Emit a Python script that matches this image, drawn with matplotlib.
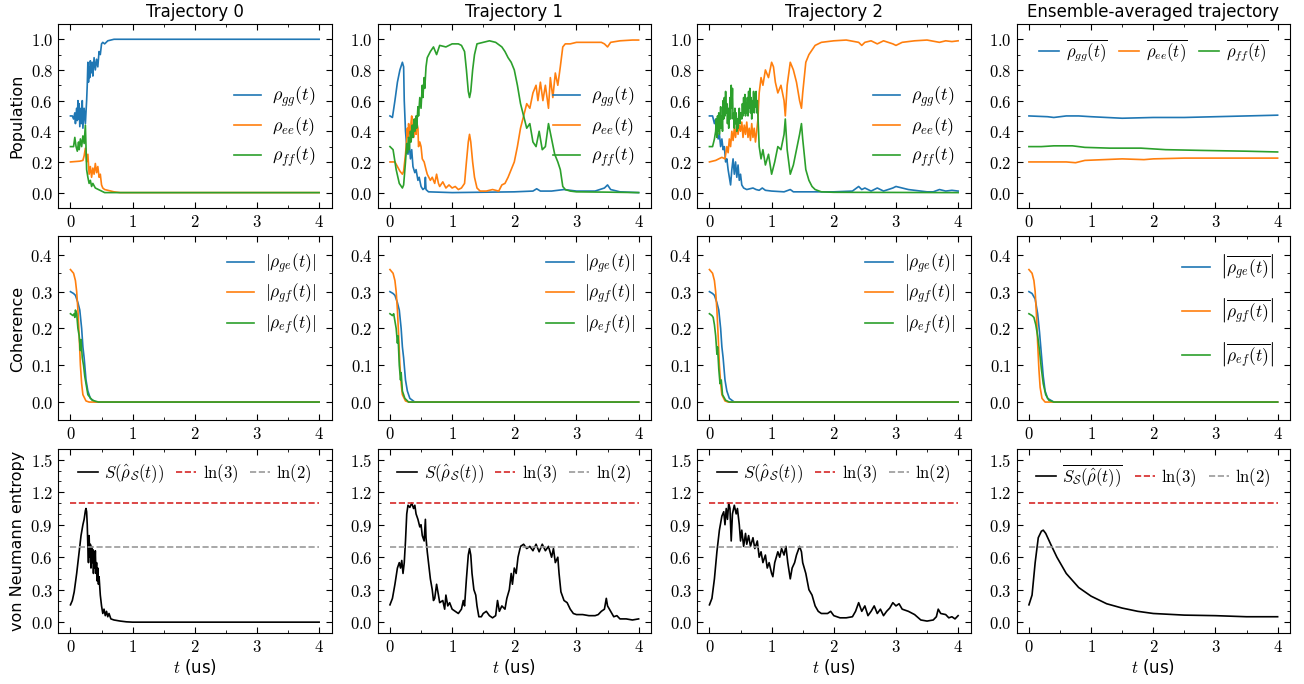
"""
Quantum trajectories: populations, coherences and von Neumann entropy
for three single trajectories and the ensemble average.
"""
import matplotlib
matplotlib.use('Agg')
import matplotlib.pyplot as plt
import numpy as np
from matplotlib.ticker import MultipleLocator, FormatStrFormatter

plt.rcParams['mathtext.fontset'] = 'cm'
plt.rcParams['font.family'] = ['DejaVu Sans']

# ---------------- data: (t [us], value) ----------------
# Trajectory 0 populations
tr0_gg = [(0, .5), (.03, .5), (.05, .48), (.07, .52), (.08, .45), (.10, .55), (.11, .47), (.12, .60),
          (.13, .48), (.14, .58), (.15, .43), (.17, .55), (.18, .45), (.19, .60), (.20, .42), (.22, .55),
          (.24, .45), (.26, .60), (.27, .70), (.28, .85), (.29, .72), (.30, .82), (.31, .75), (.32, .86),
          (.33, .78), (.35, .85), (.36, .76), (.38, .88), (.40, .80), (.42, .87), (.44, .82), (.46, .92),
          (.48, .90), (.50, .97), (.52, .98), (.55, .97), (.60, .99), (.70, 1.0), (4.0, 1.0)]
tr0_ee = [(0, .2), (.15, .205), (.20, .21), (.22, .24), (.24, .29), (.26, .20), (.28, .25), (.30, .12),
          (.32, .17), (.34, .10), (.36, .16), (.38, .12), (.40, .19), (.42, .13), (.44, .17), (.46, .10),
          (.48, .12), (.50, .05), (.52, .03), (.55, .02), (.60, .015), (.70, .005), (.80, 0), (4.0, 0)]
tr0_ff = [(0, .3), (.05, .3), (.07, .36), (.09, .30), (.11, .27), (.13, .33), (.14, .28), (.16, .35),
          (.18, .30), (.20, .37), (.22, .32), (.24, .44), (.25, .30), (.26, .15), (.28, .10), (.30, .06),
          (.32, .08), (.34, .04), (.36, .06), (.40, .03), (.45, .02), (.50, .01), (.55, 0), (4.0, 0)]

# Trajectory 1 populations
tr1_gg = [(0, .5), (.04, .49), (.08, .60), (.12, .72), (.16, .80), (.20, .85), (.22, .82), (.23, .60),
          (.25, .40), (.27, .30), (.29, .25), (.31, .32), (.33, .22), (.35, .28), (.37, .17), (.40, .13),
          (.42, .15), (.45, .08), (.47, .10), (.50, .04), (.53, .02), (.56, .03), (.57, .10), (.58, .02),
          (.62, .005), (1.0, 0), (2.0, .005), (2.3, .01), (2.36, .025), (2.42, .01), (2.6, .01),
          (2.7, .015), (2.8, .02), (3.0, .01), (3.3, .01), (3.45, .03), (3.5, .05), (3.55, .02),
          (3.7, .005), (4.0, 0)]
tr1_ee = [(0, .2), (.08, .2), (.12, .17), (.16, .14), (.20, .12), (.22, .14), (.25, .25), (.27, .35),
          (.28, .42), (.29, .36), (.30, .45), (.31, .40), (.33, .38), (.34, .46), (.35, .50), (.36, .40),
          (.37, .44), (.38, .36), (.40, .48), (.41, .40), (.42, .38), (.43, .46), (.45, .42), (.46, .30),
          (.48, .33), (.50, .30), (.52, .22), (.55, .20), (.58, .15), (.60, .12), (.65, .08), (.68, .10),
          (.72, .06), (.75, .12), (.78, .06), (.80, .04), (.85, .07), (.90, .03), (.95, .05), (1.0, .03),
          (1.05, .04), (1.1, .02), (1.15, .03), (1.2, .06), (1.23, .20), (1.26, .33), (1.28, .38),
          (1.30, .33), (1.33, .20), (1.36, .10), (1.40, .03), (1.45, .01), (1.55, .01), (1.65, .02),
          (1.75, .01), (1.8, .05), (1.85, .06), (1.9, .10), (1.95, .15), (2.0, .20), (2.05, .30),
          (2.1, .42), (2.15, .50), (2.2, .58), (2.25, .55), (2.3, .65), (2.35, .70), (2.38, .60),
          (2.42, .72), (2.46, .60), (2.5, .70), (2.55, .55), (2.58, .75), (2.62, .62), (2.66, .78),
          (2.7, .70), (2.74, .82), (2.78, .95), (2.82, .97), (2.9, .97), (3.0, .98), (3.2, .98),
          (3.4, .98), (3.45, .97), (3.5, .95), (3.55, .98), (3.7, .99), (3.9, .995), (4.0, .995)]
tr1_ff = [(0, .3), (.05, .28), (.10, .15), (.15, .06), (.20, .03), (.22, .05), (.25, .20), (.27, .32),
          (.28, .26), (.30, .36), (.31, .28), (.33, .40), (.34, .33), (.36, .44), (.37, .36), (.39, .48),
          (.40, .40), (.42, .50), (.43, .42), (.45, .56), (.46, .50), (.48, .62), (.50, .55), (.52, .70),
          (.53, .62), (.55, .75), (.56, .68), (.58, .82), (.60, .88), (.65, .92), (.70, .95), (.75, .90),
          (.80, .96), (.90, .95), (1.0, .97), (1.1, .97), (1.15, .96), (1.2, .92), (1.23, .80),
          (1.26, .66), (1.28, .62), (1.30, .66), (1.33, .80), (1.36, .90), (1.40, .97), (1.5, .98),
          (1.6, .99), (1.7, .98), (1.8, .95), (1.85, .92), (1.9, .88), (1.95, .85), (2.0, .80),
          (2.05, .70), (2.1, .58), (2.15, .50), (2.2, .42), (2.25, .45), (2.3, .33), (2.35, .30),
          (2.4, .40), (2.45, .28), (2.5, .30), (2.55, .45), (2.6, .35), (2.65, .25), (2.7, .20),
          (2.74, .15), (2.78, .04), (2.82, .02), (2.9, .01), (3.0, .005), (3.5, .003), (4.0, 0)]

# Trajectory 2 populations
tr2_gg = [(0, .5), (.05, .5), (.08, .45), (.10, .48), (.12, .40), (.14, .35), (.16, .38), (.18, .30),
          (.20, .35), (.22, .28), (.24, .30), (.26, .20), (.28, .22), (.30, .15), (.32, .10), (.34, .05),
          (.36, .15), (.38, .22), (.40, .12), (.42, .20), (.44, .10), (.46, .18), (.48, .08), (.50, .12),
          (.52, .05), (.55, .03), (.60, .02), (.70, .03), (.75, .02), (.80, .015), (.85, .03), (.90, .015),
          (1.0, .01), (1.2, .005), (1.3, .02), (1.35, .005), (1.6, .005), (2.0, .005), (2.3, .01),
          (2.4, .04), (2.45, .02), (2.5, .03), (2.6, .01), (2.7, .03), (2.8, .01), (2.95, .03), (3.0, .04),
          (3.1, .03), (3.2, .02), (3.4, .01), (3.5, .005), (3.6, .005), (3.7, .02), (3.8, .01),
          (3.9, .015), (4.0, .01)]
tr2_ee = [(0, .2), (.10, .21), (.20, .23), (.25, .22), (.28, .30), (.30, .26), (.32, .35), (.34, .30),
          (.36, .40), (.38, .34), (.40, .42), (.42, .36), (.44, .45), (.46, .38), (.48, .44), (.50, .40),
          (.52, .46), (.54, .36), (.56, .44), (.58, .38), (.60, .46), (.62, .36), (.64, .42), (.66, .34),
          (.68, .45), (.70, .36), (.72, .42), (.74, .33), (.76, .40), (.78, .48), (.80, .65), (.83, .75),
          (.86, .70), (.90, .80), (.95, .75), (1.0, .85), (1.03, .82), (1.06, .72), (1.1, .65),
          (1.15, .70), (1.2, .60), (1.22, .50), (1.25, .70), (1.3, .85), (1.35, .80), (1.4, .72),
          (1.45, .60), (1.48, .55), (1.5, .65), (1.55, .85), (1.6, .90), (1.7, .96), (1.8, .98),
          (2.0, .99), (2.2, .995), (2.4, .98), (2.45, .96), (2.5, .98), (2.6, .99), (2.7, .97),
          (2.8, .99), (2.95, .97), (3.0, .96), (3.1, .98), (3.3, .99), (3.5, .995), (3.7, .98),
          (3.8, .99), (3.9, .985), (4.0, .99)]
tr2_ff = [(0, .3), (.05, .3), (.08, .35), (.10, .40), (.11, .48), (.12, .36), (.13, .50), (.14, .40),
          (.15, .52), (.16, .38), (.17, .45), (.18, .56), (.19, .42), (.20, .50), (.21, .40), (.22, .60),
          (.23, .48), (.24, .62), (.25, .50), (.26, .66), (.27, .52), (.28, .58), (.29, .45), (.30, .55),
          (.31, .42), (.32, .50), (.33, .62), (.34, .48), (.35, .70), (.36, .55), (.37, .68), (.38, .48),
          (.39, .52), (.40, .42), (.41, .55), (.42, .45), (.43, .52), (.44, .40), (.45, .48), (.46, .42),
          (.48, .55), (.49, .45), (.50, .52), (.52, .48), (.53, .58), (.54, .50), (.55, .62), (.56, .52),
          (.57, .64), (.58, .50), (.59, .58), (.60, .52), (.61, .62), (.62, .50), (.63, .66), (.64, .55),
          (.65, .68), (.66, .52), (.67, .62), (.68, .48), (.69, .60), (.70, .55), (.71, .66), (.72, .52),
          (.73, .64), (.74, .56), (.75, .66), (.76, .52), (.77, .60), (.78, .50), (.80, .30), (.83, .22),
          (.86, .28), (.90, .18), (.95, .25), (1.0, .12), (1.05, .20), (1.1, .30), (1.15, .28), (1.2, .38),
          (1.22, .48), (1.25, .28), (1.3, .12), (1.35, .18), (1.4, .28), (1.45, .38), (1.48, .45),
          (1.5, .35), (1.55, .15), (1.6, .08), (1.65, .04), (1.7, .02), (1.8, .005), (2.0, .002), (4.0, 0)]

# Ensemble-averaged populations
avg_gg = [(0, .5), (.3, .495), (.4, .49), (.6, .5), (.8, .5), (1.0, .495), (1.5, .485), (2.0, .49),
          (2.5, .49), (3.0, .495), (3.5, .5), (4.0, .505)]
avg_ee = [(0, .2), (.4, .2), (.6, .2), (.75, .195), (.9, .21), (1.2, .215), (1.5, .22), (1.85, .215),
          (2.0, .22), (2.5, .225), (3.0, .225), (4.0, .225)]
avg_ff = [(0, .3), (.2, .3), (.4, .305), (.7, .305), (.9, .295), (1.3, .29), (1.8, .29), (2.2, .28),
          (2.8, .275), (3.5, .27), (4.0, .265)]

# Coherences |rho_ge|, |rho_gf|, |rho_ef|
coh_ge = [(0, .3), (.05, .295), (.08, .29), (.10, .28), (.12, .27), (.15, .25), (.18, .20), (.20, .15),
          (.22, .12), (.25, .06), (.28, .03), (.32, .01), (.40, 0), (4.0, 0)]
coh_gf = [(0, .36), (.05, .35), (.08, .33), (.10, .30), (.12, .25), (.14, .18), (.16, .10), (.18, .05),
          (.20, .02), (.25, .003), (.30, 0), (4.0, 0)]
tr0_ef = [(0, .24), (.04, .235), (.06, .24), (.07, .23), (.08, .25), (.10, .24), (.12, .20), (.14, .18),
          (.16, .14), (.17, .17), (.19, .12), (.21, .10), (.23, .07), (.25, .05), (.28, .02), (.35, .005),
          (.45, 0), (4.0, 0)]
tr1_ef = [(0, .24), (.04, .235), (.06, .24), (.08, .22), (.10, .20), (.12, .16), (.13, .18), (.15, .10),
          (.17, .06), (.18, .08), (.20, .03), (.24, .01), (.30, 0), (4.0, 0)]
tr2_ef = [(0, .24), (.04, .235), (.06, .23), (.08, .21), (.10, .18), (.12, .13), (.13, .15), (.15, .09),
          (.17, .05), (.19, .06), (.21, .02), (.26, .005), (.32, 0), (4.0, 0)]
avg_coh_ge = [(0, .3), (.05, .295), (.10, .28), (.14, .24), (.17, .19), (.20, .13), (.23, .07), (.26, .03),
              (.30, .01), (.40, 0), (4.0, 0)]
avg_coh_gf = [(0, .36), (.05, .35), (.08, .33), (.10, .30), (.12, .24), (.14, .16), (.16, .09), (.18, .04),
              (.21, .01), (.26, 0), (4.0, 0)]
avg_coh_ef = [(0, .24), (.05, .235), (.08, .23), (.11, .21), (.14, .18), (.17, .14), (.20, .09), (.23, .05),
              (.27, .02), (.32, .005), (.40, 0), (4.0, 0)]

# von Neumann entropy
tr0_S = [(0, .16), (.03, .20), (.06, .28), (.10, .45), (.14, .65), (.17, .80), (.20, .90), (.22, .95),
         (.24, 1.03), (.25, 1.05), (.26, 1.02), (.27, .90), (.28, .70), (.29, .55), (.30, .80), (.31, .60),
         (.32, .72), (.33, .50), (.34, .70), (.35, .55), (.36, .67), (.37, .45), (.38, .62), (.39, .50),
         (.40, .66), (.41, .45), (.42, .55), (.43, .38), (.44, .50), (.45, .35), (.46, .42), (.48, .25),
         (.50, .15), (.52, .08), (.54, .12), (.56, .06), (.58, .10), (.60, .05), (.62, .08), (.65, .03),
         (.70, .02), (.80, .01), (.90, .003), (1.0, 0), (4.0, 0)]
tr1_S = [(0, .16), (.04, .22), (.08, .35), (.12, .50), (.15, .55), (.17, .50), (.19, .57), (.21, .45),
         (.23, .55), (.25, .75), (.27, 1.0), (.29, 1.08), (.32, 1.06), (.35, 1.1), (.38, 1.05), (.40, 1.08),
         (.42, 1.0), (.45, .95), (.48, .88), (.50, .90), (.52, .80), (.55, .75), (.57, .95), (.58, .78),
         (.60, .65), (.62, .55), (.65, .40), (.68, .30), (.70, .20), (.72, .22), (.75, .35), (.78, .25),
         (.80, .18), (.85, .20), (.88, .12), (.90, .25), (.93, .15), (.96, .18), (1.0, .12), (1.05, .10),
         (1.1, .08), (1.15, .12), (1.18, .20), (1.2, .15), (1.23, .40), (1.26, .62), (1.28, .68),
         (1.3, .62), (1.32, .45), (1.35, .30), (1.38, .25), (1.4, .15), (1.43, .05), (1.47, .05),
         (1.5, .08), (1.55, .10), (1.6, .06), (1.65, .04), (1.7, .06), (1.73, .20), (1.76, .10),
         (1.8, .15), (1.85, .12), (1.88, .22), (1.92, .30), (1.95, .45), (1.97, .35), (2.0, .50),
         (2.03, .45), (2.06, .60), (2.1, .70), (2.15, .72), (2.2, .68), (2.25, .70), (2.3, .66),
         (2.35, .72), (2.4, .65), (2.45, .72), (2.5, .66), (2.55, .70), (2.6, .60), (2.63, .68),
         (2.66, .55), (2.7, .60), (2.72, .45), (2.75, .28), (2.8, .20), (2.85, .18), (2.9, .12),
         (2.95, .08), (3.0, .07), (3.1, .07), (3.2, .06), (3.3, .06), (3.35, .07), (3.4, .10), (3.45, .12),
         (3.48, .22), (3.5, .15), (3.55, .10), (3.6, .05), (3.65, .06), (3.7, .03), (3.8, .03), (3.9, .02),
         (4.0, .03)]
tr2_S = [(0, .16), (.04, .22), (.08, .40), (.12, .65), (.16, .85), (.20, .98), (.23, 1.02), (.25, .90),
         (.27, 1.05), (.29, .95), (.31, 1.1), (.33, 1.05), (.35, .75), (.37, 1.0), (.40, 1.08), (.43, 1.0),
         (.45, 1.05), (.48, .90), (.50, .75), (.52, .85), (.55, .70), (.58, .82), (.60, .72), (.63, .80),
         (.66, .70), (.70, .78), (.73, .68), (.77, .75), (.80, .60), (.83, .65), (.86, .55), (.90, .62),
         (.93, .50), (.96, .55), (1.0, .45), (1.02, .42), (1.05, .55), (1.1, .65), (1.13, .60),
         (1.16, .68), (1.2, .62), (1.23, .70), (1.26, .55), (1.3, .40), (1.33, .50), (1.37, .55),
         (1.4, .62), (1.45, .70), (1.48, .65), (1.5, .55), (1.55, .45), (1.6, .30), (1.65, .25),
         (1.7, .15), (1.75, .10), (1.8, .08), (1.9, .08), (1.95, .10), (2.0, .06), (2.1, .04), (2.2, .04),
         (2.3, .05), (2.35, .10), (2.4, .18), (2.45, .10), (2.5, .15), (2.55, .06), (2.6, .10),
         (2.65, .15), (2.7, .08), (2.75, .12), (2.8, .06), (2.85, .10), (2.9, .13), (2.95, .18),
         (3.0, .15), (3.05, .17), (3.1, .12), (3.2, .10), (3.3, .07), (3.4, .02), (3.5, .01), (3.6, .02),
         (3.65, .05), (3.68, .12), (3.72, .08), (3.8, .07), (3.85, .04), (3.9, .05), (3.95, .03), (4.0, .06)]
avg_S = [(0, .16), (.05, .25), (.10, .55), (.15, .78), (.20, .84), (.23, .85), (.27, .82), (.35, .72),
         (.45, .60), (.60, .45), (.80, .32), (1.0, .24), (1.25, .17), (1.5, .13), (1.75, .10), (2.0, .08),
         (2.5, .065), (3.0, .06), (3.5, .05), (4.0, .05)]

titles = ['Trajectory 0', 'Trajectory 1', 'Trajectory 2', 'Ensemble-averaged trajectory']
pop_sets = [(tr0_gg, tr0_ee, tr0_ff), (tr1_gg, tr1_ee, tr1_ff), (tr2_gg, tr2_ee, tr2_ff),
            (avg_gg, avg_ee, avg_ff)]
coh_sets = [(coh_ge, coh_gf, tr0_ef), (coh_ge, coh_gf, tr1_ef), (coh_ge, coh_gf, tr2_ef),
            (avg_coh_ge, avg_coh_gf, avg_coh_ef)]
ent_sets = [tr0_S, tr1_S, tr2_S, avg_S]

pop_labels = [r'$\rho_{gg}(t)$', r'$\rho_{ee}(t)$', r'$\rho_{ff}(t)$']
pop_labels_avg = [r'$\overline{\rho_{gg}(t)}$', r'$\overline{\rho_{ee}(t)}$', r'$\overline{\rho_{ff}(t)}$']
coh_labels = [r'$|\rho_{ge}(t)|$', r'$|\rho_{gf}(t)|$', r'$|\rho_{ef}(t)|$']
coh_labels_avg = [r'$\left|\overline{\rho_{ge}(t)}\right|$', r'$\left|\overline{\rho_{gf}(t)}\right|$',
                  r'$\left|\overline{\rho_{ef}(t)}\right|$']
ent_label = r'$S(\hat{\rho}_{\mathcal{S}}(t))$'
ent_label_avg = r'$\overline{S_{\mathcal{S}}(\hat{\rho}(t))}$'

ln3, ln2 = np.log(3), np.log(2)
t_max = 4.0


def xy(pairs):
    a = np.array(pairs, dtype=float)
    return a[:, 0], a[:, 1]


def style(ax, ymaj, ymin, fmt):
    ax.set_xlim(-0.2, 4.2)
    ax.xaxis.set_major_locator(MultipleLocator(1))
    ax.xaxis.set_minor_locator(MultipleLocator(0.5))
    ax.yaxis.set_major_locator(MultipleLocator(ymaj))
    ax.yaxis.set_minor_locator(MultipleLocator(ymin))
    ax.xaxis.set_major_formatter(FormatStrFormatter(r'$%d$'))
    ax.yaxis.set_major_formatter(FormatStrFormatter(fmt))
    ax.tick_params(which='both', direction='in', top=True, right=True, labelsize=12)
    ax.tick_params(which='major', length=4)
    ax.tick_params(which='minor', length=2)


fig, axes = plt.subplots(3, 4, figsize=(13.04, 6.84), dpi=100)
fig.subplots_adjust(left=0.0445, right=0.9893, top=0.965, bottom=0.0746, wspace=0.168, hspace=0.155)
colors = ['C0', 'C1', 'C2']
top_legend = dict(loc='upper center', ncol=3, frameon=False, fontsize=12, handlelength=1.2,
                  columnspacing=0.7, handletextpad=0.4, borderaxespad=0.4)

for j in range(4):
    # populations
    ax = axes[0, j]
    labels = pop_labels_avg if j == 3 else pop_labels
    for series, c, lab in zip(pop_sets[j], colors, labels):
        t, v = xy(series)
        ax.plot(t, v, color=c, lw=1.2, label=lab)
    ax.set_ylim(-0.1, 1.1)
    style(ax, 0.2, 0.1, r'$%.1f$')
    ax.set_title(titles[j], fontsize=12, pad=5)
    if j == 3:
        ax.legend(**top_legend)
    else:
        ax.legend(loc='center right', bbox_to_anchor=(1.0, 0.44), frameon=False, fontsize=13,
                  handlelength=1.5, handletextpad=0.6, labelspacing=0.35)

    # coherences
    ax = axes[1, j]
    labels = coh_labels_avg if j == 3 else coh_labels
    for series, c, lab in zip(coh_sets[j], colors, labels):
        t, v = xy(series)
        ax.plot(t, v, color=c, lw=1.2, label=lab)
    ax.set_ylim(-0.05, 0.45)
    style(ax, 0.1, 0.05, r'$%.1f$')
    ax.legend(loc='upper right', frameon=False, fontsize=12.5, handlelength=1.6, handletextpad=0.6,
              labelspacing=0.35 if j < 3 else 0.85)

    # entropy
    ax = axes[2, j]
    t, v = xy(ent_sets[j])
    ax.plot(t, v, color='black', lw=1.2, label=ent_label_avg if j == 3 else ent_label)
    ax.plot([0, t_max], [ln3, ln3], '--', color='#d62728', lw=1.2, label=r'$\ln(3)$')
    ax.plot([0, t_max], [ln2, ln2], '--', color='#999999', lw=1.2, label=r'$\ln(2)$')
    ax.set_ylim(-0.1, 1.6)
    style(ax, 0.3, 0.1, r'$%.1f$')
    ax.set_xlabel(r'$t$ (us)', fontsize=12, labelpad=1)
    ax.legend(**top_legend)

axes[0, 0].set_ylabel('Population', fontsize=11.5)
axes[1, 0].set_ylabel('Coherence', fontsize=11.5)
axes[2, 0].set_ylabel('von Neumann entropy', fontsize=11.5)

plt.savefig('out.png', dpi=100)
print('saved out.png')
